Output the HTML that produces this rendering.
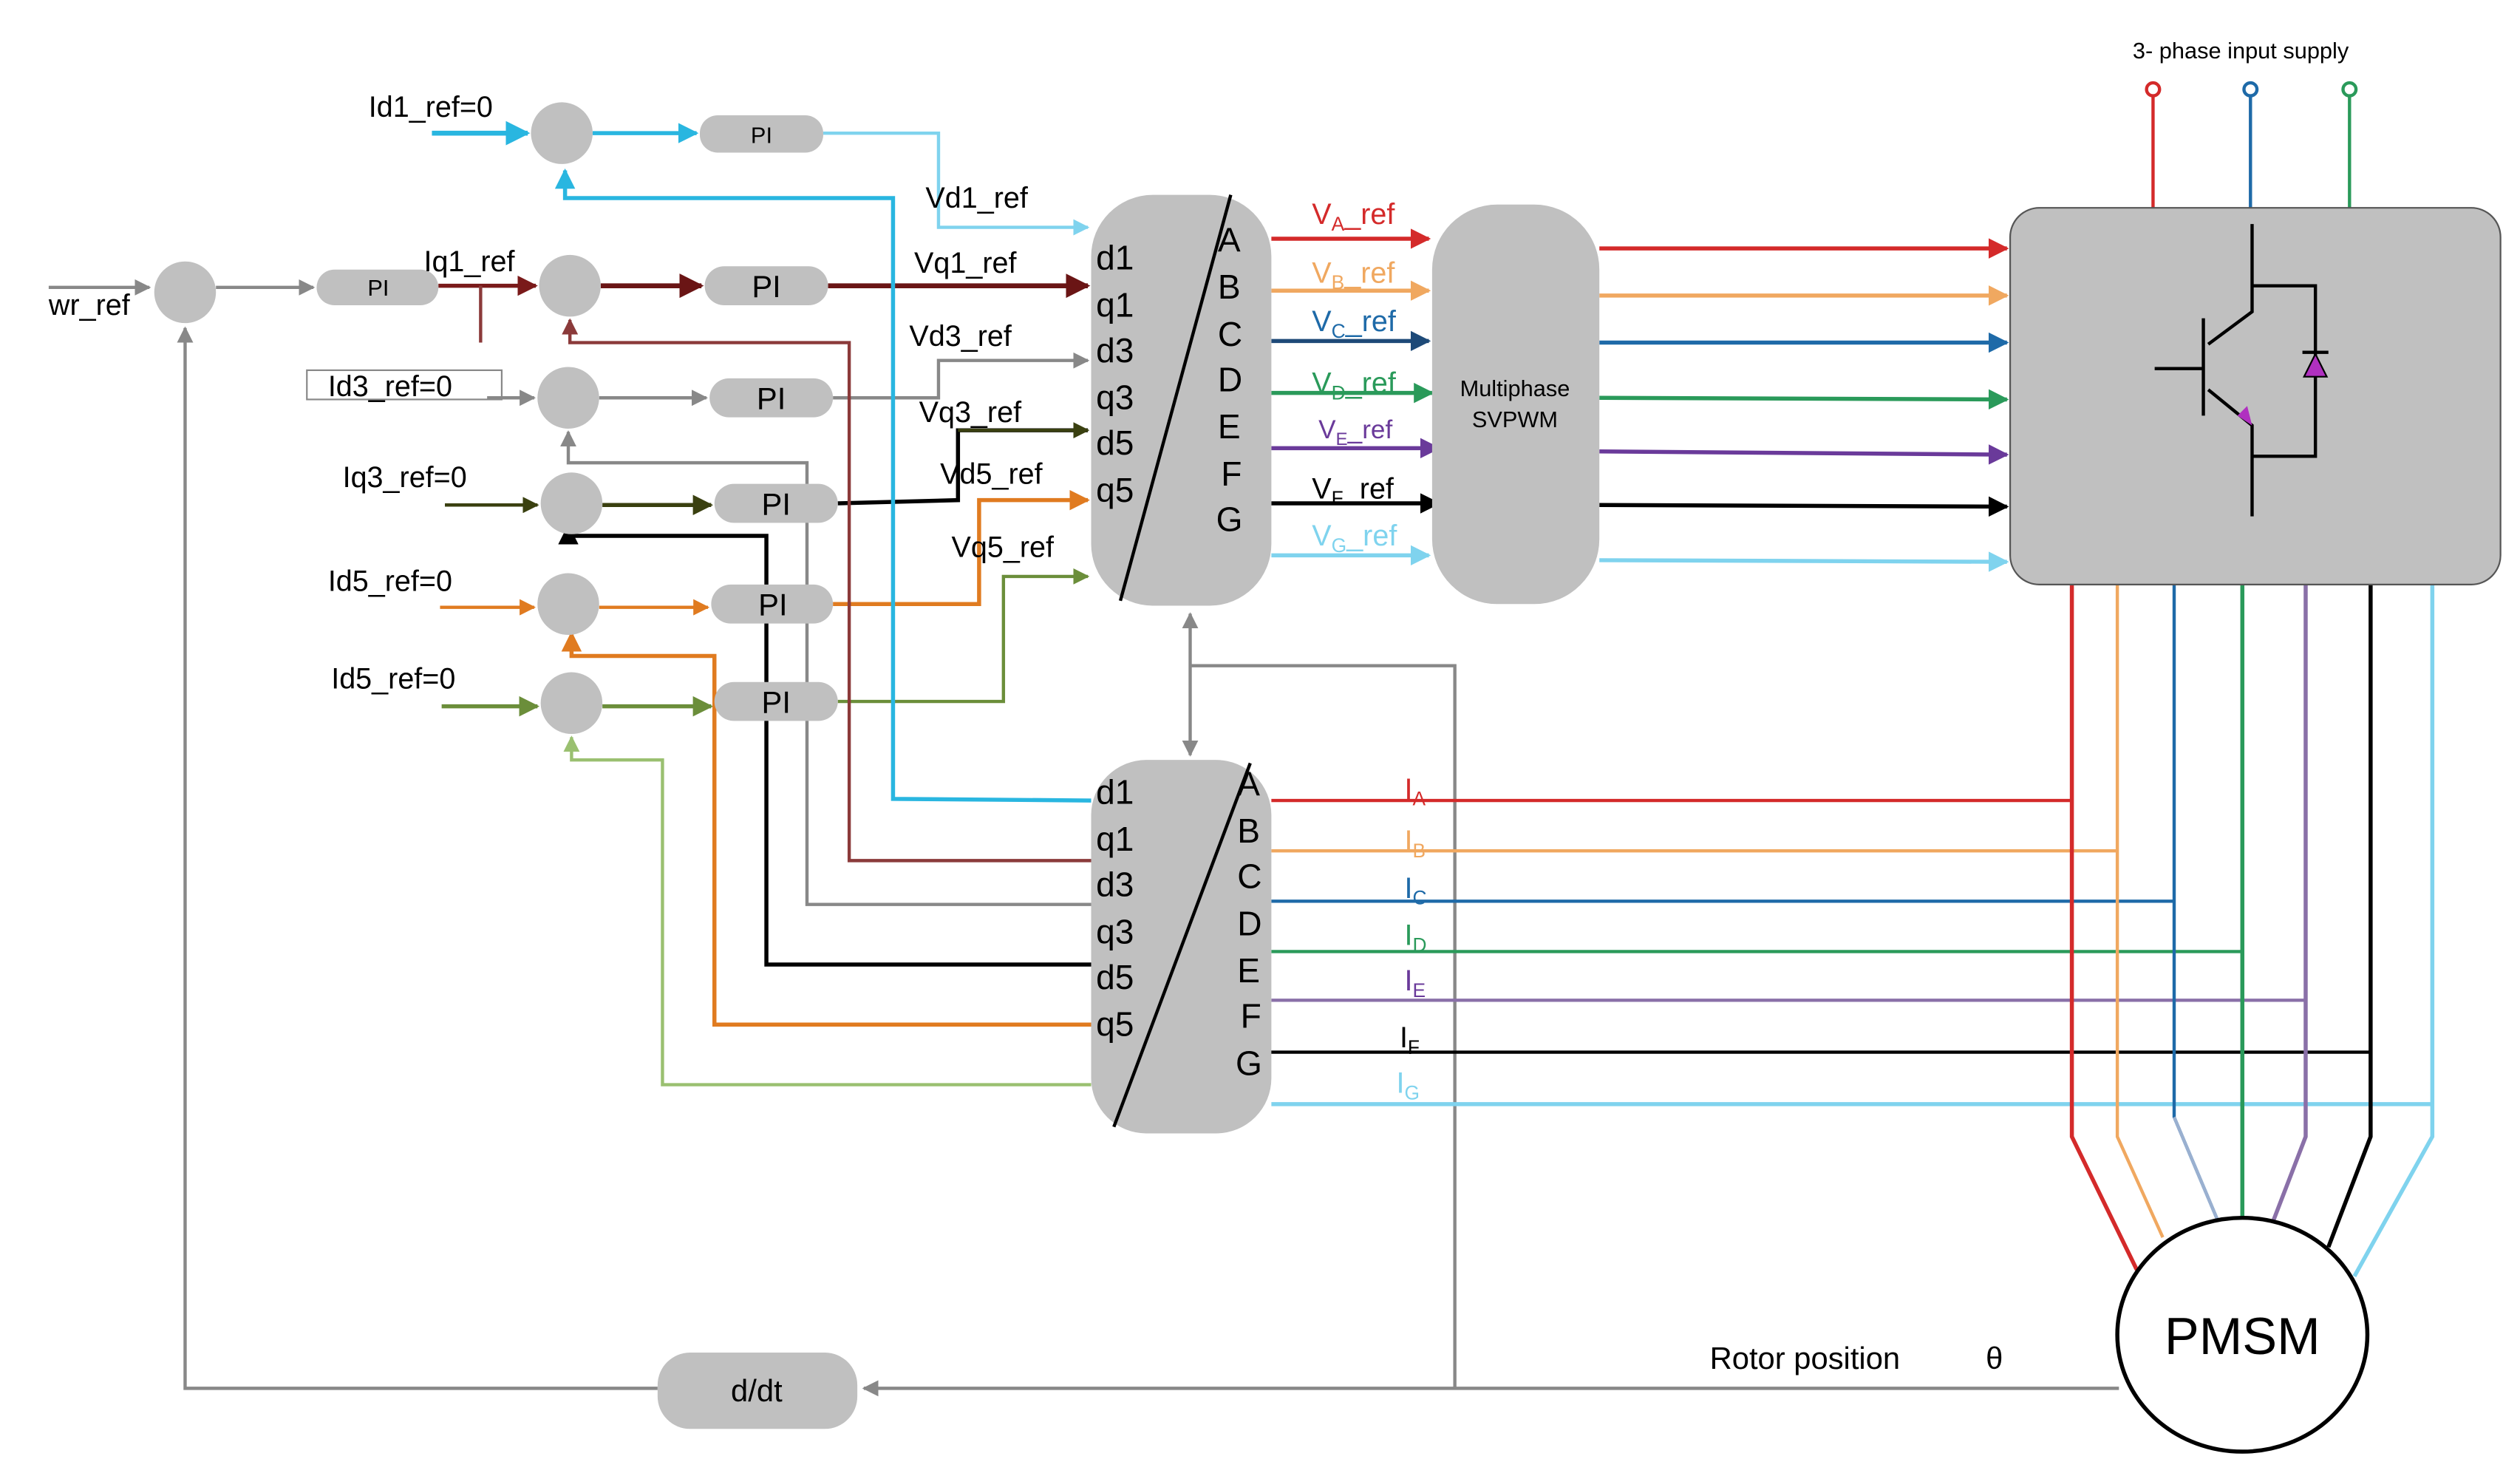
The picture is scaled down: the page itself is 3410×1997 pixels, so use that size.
<!DOCTYPE html>
<html><head><meta charset="utf-8"><style>
html,body{margin:0;padding:0;background:#fff;}
svg{display:block;}
text{font-family:"Liberation Sans",sans-serif;}
</style></head><body>
<svg width="3410" height="1997" viewBox="0 0 1552 909" preserveAspectRatio="none" xmlns="http://www.w3.org/2000/svg">
<defs>
<marker id="a" viewBox="0 0 10 10" refX="9" refY="5" markerWidth="5" markerHeight="5" orient="auto-start-reverse"><path d="M0,0L10,5L0,10z" fill="context-stroke"/></marker>
</defs>
<g fill="none" stroke-width="2">
<!-- speed loop -->
<line x1="30" y1="177" x2="92" y2="177" stroke="#888" marker-end="url(#a)"/>
<line x1="133" y1="177" x2="193" y2="177" stroke="#888" marker-end="url(#a)"/>
<polyline points="405,855 114,855 114,202" stroke="#888" marker-end="url(#a)"/>
<polyline points="1305,855 532,855" stroke="#888" marker-end="url(#a)"/>
<polyline points="896,855 896,410 733,410" stroke="#888"/>
<line x1="733" y1="378" x2="733" y2="465" stroke="#888" marker-start="url(#a)" marker-end="url(#a)"/>
<!-- Iq1 ref -->
<line x1="270" y1="176" x2="330" y2="176" stroke="#7a1a1a" stroke-width="2.5" marker-end="url(#a)"/>
<line x1="296" y1="176" x2="296" y2="211" stroke="#8b3a3a"/>
<!-- refs into sums -->
<line x1="266" y1="82" x2="325" y2="82" stroke="#29b6e0" stroke-width="3" marker-end="url(#a)"/>
<line x1="365" y1="82" x2="429" y2="82" stroke="#29b6e0" stroke-width="2.5" marker-end="url(#a)"/>
<line x1="370" y1="176" x2="432" y2="176" stroke="#6a1515" stroke-width="3" marker-end="url(#a)"/>
<line x1="300" y1="245" x2="329" y2="245" stroke="#888" marker-end="url(#a)"/>
<line x1="369" y1="245" x2="435" y2="245" stroke="#888" marker-end="url(#a)"/>
<line x1="274" y1="311" x2="331" y2="311" stroke="#3a4010" marker-end="url(#a)"/>
<line x1="371" y1="311" x2="438" y2="311" stroke="#3a4010" stroke-width="2.5" marker-end="url(#a)"/>
<line x1="271" y1="374" x2="329" y2="374" stroke="#e07b20" marker-end="url(#a)"/>
<line x1="369" y1="374" x2="436" y2="374" stroke="#e07b20" marker-end="url(#a)"/>
<line x1="272" y1="435" x2="331" y2="435" stroke="#6b8e3a" stroke-width="2.5" marker-end="url(#a)"/>
<line x1="371" y1="435" x2="438" y2="435" stroke="#6b8e3a" stroke-width="2.5" marker-end="url(#a)"/>
<!-- PI outputs -->
<polyline points="507,82 578,82 578,140 670,140" stroke="#7fd3ee" marker-end="url(#a)"/>
<polyline points="510,176 670,176" stroke="#6a1515" stroke-width="3" marker-end="url(#a)"/>
<polyline points="513,245 578,245 578,222 670,222" stroke="#888" marker-end="url(#a)"/>
<polyline points="516,310 590,308 590,265 670,265" stroke="#000" stroke-width="2.5"/>
<polyline points="590,265 670,265" stroke="#3a4010" marker-end="url(#a)"/>
<polyline points="513,372 603,372 603,308 670,308" stroke="#e07b20" stroke-width="2.5" marker-end="url(#a)"/>
<polyline points="516,432 618,432 618,355 670,355" stroke="#6b8e3a" marker-end="url(#a)"/>
<!-- feedback -->
<polyline points="672,493 550,492 550,122 348,122 348,105" stroke="#29b6e0" stroke-width="2.5" marker-end="url(#a)"/>
<polyline points="672,530 523,530 523,211 351,211 351,197" stroke="#8b3a3a" marker-end="url(#a)"/>
<polyline points="672,557 497,557 497,285 350,285 350,266" stroke="#888" marker-end="url(#a)"/>
<polyline points="672,594 472,594 472,330 350,330 350,324" stroke="#000" stroke-width="2.5" marker-end="url(#a)"/>
<polyline points="672,631 440,631 440,404 352,404 352,390" stroke="#e07b20" stroke-width="2.5" marker-end="url(#a)"/>
<polyline points="672,668 408,668 408,468 352,468 352,454" stroke="#9ac070" marker-end="url(#a)"/>
<!-- V refs -->
<line x1="783" y1="147" x2="880" y2="147" stroke="#d42a2a" stroke-width="2.5" marker-end="url(#a)"/>
<line x1="783" y1="179" x2="880" y2="179" stroke="#f0a860" stroke-width="2.5" marker-end="url(#a)"/>
<line x1="783" y1="210" x2="880" y2="210" stroke="#1e4a78" stroke-width="2.5" marker-end="url(#a)"/>
<line x1="783" y1="242" x2="882" y2="242" stroke="#2a9a5a" stroke-width="2.5" marker-end="url(#a)"/>
<line x1="783" y1="276" x2="886" y2="276" stroke="#6a3a9a" stroke-width="2.5" marker-end="url(#a)"/>
<line x1="783" y1="310" x2="886" y2="310" stroke="#000" stroke-width="2.5" marker-end="url(#a)"/>
<line x1="783" y1="342" x2="880" y2="342" stroke="#7fd3ee" stroke-width="2.5" marker-end="url(#a)"/>
<!-- SVPWM outputs -->
<line x1="985" y1="153" x2="1236" y2="153" stroke="#d42a2a" stroke-width="2.5" marker-end="url(#a)"/>
<line x1="985" y1="182" x2="1236" y2="182" stroke="#f0a860" stroke-width="2.5" marker-end="url(#a)"/>
<line x1="985" y1="211" x2="1236" y2="211" stroke="#1e6aa8" stroke-width="2.5" marker-end="url(#a)"/>
<line x1="985" y1="245" x2="1236" y2="246" stroke="#2a9a5a" stroke-width="2.5" marker-end="url(#a)"/>
<line x1="985" y1="278" x2="1236" y2="280" stroke="#6a3a9a" stroke-width="2.5" marker-end="url(#a)"/>
<line x1="985" y1="311" x2="1236" y2="312" stroke="#000" stroke-width="2.5" marker-end="url(#a)"/>
<line x1="985" y1="345" x2="1236" y2="346" stroke="#7fd3ee" stroke-width="2.5" marker-end="url(#a)"/>
<!-- supply -->
<line x1="1326" y1="59" x2="1326" y2="128" stroke="#d42a2a"/>
<line x1="1386" y1="59" x2="1386" y2="128" stroke="#1e6aa8"/>
<line x1="1447" y1="59" x2="1447" y2="128" stroke="#2a9a5a"/>
<circle cx="1326" cy="55" r="4" stroke="#d42a2a"/>
<circle cx="1386" cy="55" r="4" stroke="#1e6aa8"/>
<circle cx="1447" cy="55" r="4" stroke="#2a9a5a"/>
<!-- currents -->
<polyline points="783,493 1276,493" stroke="#d42a2a"/>
<polyline points="783,524 1304,524" stroke="#f0a860"/>
<polyline points="783,555 1339,555" stroke="#1e6aa8"/>
<polyline points="783,586 1381,586" stroke="#2a9a5a"/>
<polyline points="783,616 1420,616" stroke="#8a70a8"/>
<polyline points="760,648 1460,648" stroke="#000"/>
<polyline points="783,680 1498,680" stroke="#7fd3ee" stroke-width="2.5"/>
<polyline points="1276,360 1276,700 1316,782" stroke="#d42a2a" stroke-width="2.5"/>
<polyline points="1304,360 1304,700 1332,762" stroke="#f0a860"/>
<polyline points="1339,360 1339,688 1366,752" stroke="#1e6aa8"/>
<polyline points="1339,688 1366,752" stroke="#9ab0d0"/>
<polyline points="1381,360 1381,750" stroke="#2a9a5a" stroke-width="2.5"/>
<polyline points="1420,360 1420,700 1400,752" stroke="#8a70a8" stroke-width="2.5"/>
<polyline points="1460,360 1460,700 1434,768" stroke="#000" stroke-width="2.5"/>
<polyline points="1498,360 1498,700 1450,786" stroke="#7fd3ee" stroke-width="2.5"/>
</g>
<!-- blocks -->
<g fill="#c0c0c0">
<circle cx="114" cy="180" r="19"/>
<ellipse cx="346" cy="82" rx="19" ry="19"/>
<ellipse cx="351" cy="176" rx="19" ry="19"/>
<ellipse cx="350" cy="245" rx="19" ry="19"/>
<ellipse cx="352" cy="310" rx="19" ry="19"/>
<ellipse cx="350" cy="372" rx="19" ry="19"/>
<ellipse cx="352" cy="433" rx="19" ry="19"/>
<rect x="195" y="166" width="75" height="22" rx="11"/>
<rect x="431" y="71" width="76" height="23" rx="11"/>
<rect x="434" y="164" width="76" height="24" rx="12"/>
<rect x="437" y="233" width="76" height="24" rx="12"/>
<rect x="440" y="298" width="76" height="24" rx="12"/>
<rect x="438" y="360" width="75" height="24" rx="12"/>
<rect x="440" y="420" width="76" height="24" rx="12"/>
<rect x="672" y="120" width="111" height="253" rx="38"/>
<rect x="672" y="468" width="111" height="230" rx="34"/>
<rect x="882" y="126" width="103" height="246" rx="40"/>
<rect x="1238" y="128" width="302" height="232" rx="18" stroke="#555" stroke-width="1"/>
<rect x="405" y="833" width="123" height="47" rx="20"/>
</g>
<rect x="189" y="228" width="120" height="18" fill="none" stroke="#888" stroke-width="1"/>
<ellipse cx="1381" cy="822" rx="77" ry="72" fill="#fff" stroke="#000" stroke-width="2.5"/>
<g stroke="#000" stroke-width="2" fill="none">
<line x1="758" y1="120" x2="690" y2="370"/>
<line x1="770" y1="470" x2="686" y2="694"/>
<!-- IGBT -->
<polyline points="1387,138 1387,192 1360,212"/>
<line x1="1357" y1="196" x2="1357" y2="256"/>
<line x1="1327" y1="227" x2="1357" y2="227"/>
<polyline points="1360,240 1387,262 1387,318"/>
<polyline points="1387,176 1426,176 1426,281 1387,281"/>
<line x1="1418" y1="217" x2="1434" y2="217"/>
</g>
<polygon points="1426,218 1419,232 1433,232" fill="#b030c0" stroke="#000" stroke-width="1"/>
<polygon points="1387,262 1378,256 1384,250" fill="#b030c0"/>
<!-- text -->
<g font-size="18" fill="#000">
<text x="30" y="194">wr_ref</text>
<text x="227" y="72">Id1_ref=0</text>
<text x="261" y="167">Iq1_ref</text>
<text x="202" y="244">Id3_ref=0</text>
<text x="211" y="300">Iq3_ref=0</text>
<text x="202" y="364">Id5_ref=0</text>
<text x="204" y="424">Id5_ref=0</text>
<text x="570" y="128">Vd1_ref</text>
<text x="563" y="168">Vq1_ref</text>
<text x="560" y="213">Vd3_ref</text>
<text x="566" y="260">Vq3_ref</text>
<text x="579" y="298">Vd5_ref</text>
<text x="586" y="343">Vq5_ref</text>
</g>
<g font-size="14" fill="#000" text-anchor="middle">
<text x="233" y="182">PI</text>
<text x="469" y="88">PI</text>
</g>
<g font-size="19" fill="#000" text-anchor="middle">
<text x="472" y="183">PI</text>
<text x="475" y="252">PI</text>
<text x="478" y="317">PI</text>
<text x="476" y="379">PI</text>
<text x="478" y="439">PI</text>
<text x="466" y="863">d/dt</text>
</g>
<g font-size="21" fill="#000">
<text x="675" y="166">d1</text><text x="675" y="195">q1</text><text x="675" y="223">d3</text><text x="675" y="252">q3</text><text x="675" y="280">d5</text><text x="675" y="309">q5</text>
<text x="750" y="155">A</text><text x="750" y="184">B</text><text x="750" y="213">C</text><text x="750" y="241">D</text><text x="750" y="270">E</text><text x="752" y="299">F</text><text x="749" y="327">G</text>
<text x="675" y="495">d1</text><text x="675" y="524">q1</text><text x="675" y="552">d3</text><text x="675" y="581">q3</text><text x="675" y="609">d5</text><text x="675" y="638">q5</text>
<text x="762" y="490">A</text><text x="762" y="519">B</text><text x="762" y="547">C</text><text x="762" y="576">D</text><text x="762" y="605">E</text><text x="764" y="633">F</text><text x="761" y="662">G</text>
</g>
<g font-size="18">
<text x="808" y="138" fill="#d42a2a">V<tspan font-size="12" dy="4">A</tspan><tspan dy="-4">_ref</tspan></text>
<text x="808" y="174" fill="#f0a860">V<tspan font-size="12" dy="4">B</tspan><tspan dy="-4">_ref</tspan></text>
<text x="808" y="204" fill="#1e6aa8">V<tspan font-size="12" dy="4">C</tspan><tspan dy="-4">_ref</tspan></text>
<text x="808" y="242" fill="#2a9a5a">V<tspan font-size="12" dy="4">D</tspan><tspan dy="-4">_ref</tspan></text>
<text x="812" y="270" fill="#6a3a9a" font-size="16">V<tspan font-size="11" dy="4">E</tspan><tspan dy="-4">_ref</tspan></text>
<text x="808" y="307" fill="#000">V<tspan font-size="12" dy="4">F</tspan><tspan dy="-4">_ref</tspan></text>
<text x="808" y="336" fill="#7fd3ee">V<tspan font-size="12" dy="4">G</tspan><tspan dy="-4">_ref</tspan></text>
<text x="865" y="492" fill="#d42a2a">I<tspan font-size="12" dy="4">A</tspan></text>
<text x="865" y="524" fill="#f0a860">I<tspan font-size="12" dy="4">B</tspan></text>
<text x="865" y="553" fill="#1e6aa8">I<tspan font-size="12" dy="4">C</tspan></text>
<text x="865" y="582" fill="#2a9a5a">I<tspan font-size="12" dy="4">D</tspan></text>
<text x="865" y="610" fill="#6a3a9a">I<tspan font-size="12" dy="4">E</tspan></text>
<text x="862" y="645" fill="#000">I<tspan font-size="12" dy="4">F</tspan></text>
<text x="860" y="673" fill="#7fd3ee">I<tspan font-size="12" dy="4">G</tspan></text>
</g>
<g font-size="14" fill="#000" text-anchor="middle">
<text x="933" y="244">Multiphase</text>
<text x="933" y="263">SVPWM</text>
<text x="1380" y="36">3- phase input supply</text>
</g>
<text x="1053" y="843" font-size="19" fill="#000">Rotor position</text>
<text x="1223" y="843" font-size="19" fill="#000">θ</text>
<text x="1381" y="834" font-size="32" fill="#000" text-anchor="middle">PMSM</text>
</svg>
</body></html>
